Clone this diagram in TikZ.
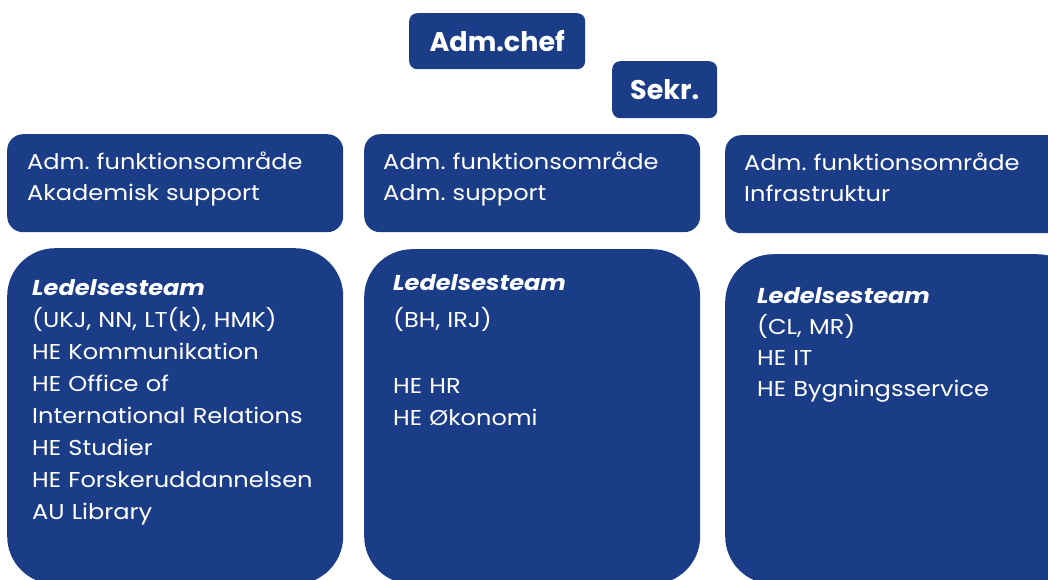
\documentclass[tikz,border=0pt]{standalone}
\usepackage{fontspec}
\setmainfont{Poppins}
\newfontfamily\bodyfont[FakeStretch=1.12]{Poppins}
\definecolor{aublue}{RGB}{27,61,135}
\begin{document}
\frenchspacing
\begin{tikzpicture}[x=1pt,y=-1pt,
  box/.style={fill=aublue, draw=none, inner sep=0pt, anchor=north west},
  small/.style={box, rounded corners=8pt},
  mid/.style={box, rounded corners=16pt},
  big/.style={box, rounded corners=48pt},
  txt/.style={text=white, inner sep=0pt, anchor=base west, align=left, text width=340pt,
    font=\bodyfont\fontsize{21.5}{31}\selectfont},
  bigtxt/.style={txt, font=\bodyfont\fontsize{21.5}{32}\selectfont},
  head/.style={text=white, inner sep=0pt, font=\fontsize{27}{30}\selectfont\bfseries}]
\useasboundingbox (0,0) rectangle (1048,580);
\clip (0,0) rectangle (1048,580);
% top boxes
\node[small, minimum width=176pt, minimum height=56pt] (chefbox) at (409,13) {};
\node[head] (chef) at (chefbox.center) {Adm.chef};
\node[small, minimum width=105pt, minimum height=57pt] (sekrbox) at (612,61) {};
\node[head] (sekr) at (sekrbox.center) {Sekr.};
% row 2
\node[mid, minimum width=336pt, minimum height=98pt] (f1) at (7,134) {};
\node[mid, minimum width=336pt, minimum height=98pt] (f2) at (364,134) {};
\node[mid, minimum width=360pt, minimum height=98pt] (f3) at (725,135) {};
\node[txt] (t1) at (27,169) {Adm. funktionsområde\\Akademisk support};
\node[txt] (t2) at (383,169) {Adm. funktionsområde\\Adm. support};
\node[txt] (t3) at (744,171) {Adm. funktionsområde\\Infrastruktur};
% row 3
\node[big, minimum width=336pt, minimum height=336pt] (l1) at (7,248) {};
\node[big, minimum width=336pt, minimum height=335pt] (l2) at (364,249) {};
\node[big, minimum width=360pt, minimum height=330pt] (l3) at (725,254) {};
\node[bigtxt] (u1) at (32,295) {\textbf{\textit{Ledelsesteam}}\\(UKJ, NN, LT(k), HMK)\\HE Kommunikation\\HE Office of\\International Relations\\HE Studier\\HE Forskeruddannelsen\\AU Library};
\node[bigtxt] (u2) at (393,290) {\textbf{\textit{Ledelsesteam}}\\[5pt](BH, IRJ)\\[34pt]HE HR\\HE Økonomi};
\node[bigtxt, font=\bodyfont\fontsize{21.5}{31}\selectfont] (u3) at (757,303) {\textbf{\textit{Ledelsesteam}}\\(CL, MR)\\HE IT\\HE Bygningsservice};
\end{tikzpicture}
\end{document}
